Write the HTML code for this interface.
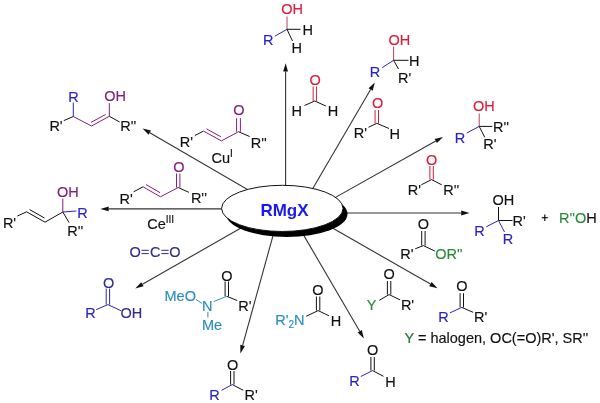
<!DOCTYPE html><html><head><meta charset="utf-8"><style>html,body{margin:0;padding:0;background:#fff;width:600px;height:403px;overflow:hidden}svg{display:block;filter:blur(0.35px)}text{font-family:"Liberation Sans",sans-serif;white-space:pre}</style></head><body>
<svg width="600" height="403" viewBox="0 0 600 403">
<line x1="285.60" y1="212.00" x2="285.60" y2="71.50" stroke="#333" stroke-width="1.1"/>
<polygon points="285.60,63.20 288.00,71.50 283.20,71.50" fill="#111"/>
<line x1="306.95" y1="198.56" x2="370.61" y2="89.57" stroke="#333" stroke-width="1.1"/>
<polygon points="374.80,82.40 372.69,90.78 368.54,88.36" fill="#111"/>
<line x1="327.04" y1="202.13" x2="435.77" y2="140.97" stroke="#333" stroke-width="1.1"/>
<polygon points="443.00,136.90 436.94,143.06 434.59,138.88" fill="#111"/>
<line x1="323.00" y1="213.00" x2="461.20" y2="213.00" stroke="#333" stroke-width="1.1"/>
<polygon points="469.50,213.00 461.20,215.40 461.20,210.60" fill="#111"/>
<line x1="323.34" y1="222.79" x2="430.40" y2="284.08" stroke="#333" stroke-width="1.1"/>
<polygon points="437.60,288.20 429.20,286.16 431.59,281.99" fill="#111"/>
<line x1="298.95" y1="227.14" x2="359.72" y2="331.23" stroke="#333" stroke-width="1.1"/>
<polygon points="363.90,338.40 357.64,332.44 361.79,330.02" fill="#111"/>
<line x1="275.70" y1="225.94" x2="242.62" y2="345.40" stroke="#333" stroke-width="1.1"/>
<polygon points="240.40,353.40 240.30,344.76 244.93,346.04" fill="#111"/>
<line x1="247.92" y1="224.05" x2="142.41" y2="284.29" stroke="#333" stroke-width="1.1"/>
<polygon points="135.20,288.40 141.22,282.20 143.60,286.37" fill="#111"/>
<line x1="242.00" y1="208.90" x2="108.70" y2="208.90" stroke="#333" stroke-width="1.1"/>
<polygon points="100.40,208.90 108.70,206.50 108.70,211.30" fill="#111"/>
<line x1="257.87" y1="195.53" x2="149.78" y2="132.67" stroke="#333" stroke-width="1.1"/>
<polygon points="142.60,128.50 150.98,130.60 148.57,134.75" fill="#111"/>
<ellipse cx="286.8" cy="213.9" rx="60.7" ry="23.1" fill="#000"/>
<ellipse cx="282.3" cy="208.4" rx="60.7" ry="23.1" fill="#fff" stroke="#111" stroke-width="1"/>
<text x="260.4" y="215.50" font-size="17" font-weight="bold" fill="#1818f0">RMgX</text>
<line x1="287.00" y1="29.30" x2="287.00" y2="16.50" stroke="#c0405a" stroke-width="1.0"/>
<line x1="287.00" y1="29.30" x2="300.50" y2="29.30" stroke="#111" stroke-width="1.0"/>
<line x1="287.00" y1="29.30" x2="274.80" y2="36.20" stroke="#2a22c8" stroke-width="1.0"/>
<line x1="287.00" y1="29.30" x2="292.50" y2="41.00" stroke="#111" stroke-width="1.0"/>
<line x1="316.45" y1="101.00" x2="316.45" y2="86.50" stroke="#d81e3c" stroke-width="1.0"/>
<line x1="313.15" y1="101.00" x2="313.15" y2="86.50" stroke="#d81e3c" stroke-width="1.0"/>
<line x1="314.80" y1="101.00" x2="304.50" y2="105.50" stroke="#111" stroke-width="1.0"/>
<line x1="314.80" y1="101.00" x2="325.80" y2="106.00" stroke="#111" stroke-width="1.0"/>
<line x1="393.60" y1="60.30" x2="393.60" y2="46.50" stroke="#c0405a" stroke-width="1.0"/>
<line x1="393.60" y1="60.30" x2="408.50" y2="60.30" stroke="#111" stroke-width="1.0"/>
<line x1="393.60" y1="60.30" x2="382.10" y2="67.70" stroke="#2a22c8" stroke-width="1.0"/>
<line x1="393.60" y1="60.30" x2="398.50" y2="69.00" stroke="#111" stroke-width="1.0"/>
<line x1="378.50" y1="123.30" x2="378.50" y2="110.00" stroke="#d81e3c" stroke-width="1.0"/>
<line x1="375.10" y1="123.30" x2="375.10" y2="110.00" stroke="#d81e3c" stroke-width="1.0"/>
<line x1="376.80" y1="123.30" x2="368.50" y2="127.30" stroke="#111" stroke-width="1.0"/>
<line x1="376.80" y1="123.30" x2="389.00" y2="128.50" stroke="#111" stroke-width="1.0"/>
<line x1="479.20" y1="126.40" x2="479.20" y2="113.50" stroke="#c0405a" stroke-width="1.0"/>
<line x1="479.20" y1="126.40" x2="492.30" y2="126.40" stroke="#111" stroke-width="1.0"/>
<line x1="479.20" y1="126.40" x2="466.80" y2="133.00" stroke="#2a22c8" stroke-width="1.0"/>
<line x1="479.20" y1="126.40" x2="484.80" y2="137.40" stroke="#111" stroke-width="1.0"/>
<line x1="433.30" y1="179.60" x2="433.30" y2="166.00" stroke="#d81e3c" stroke-width="1.0"/>
<line x1="429.90" y1="179.60" x2="429.90" y2="166.00" stroke="#d81e3c" stroke-width="1.0"/>
<line x1="431.60" y1="179.60" x2="421.30" y2="184.80" stroke="#111" stroke-width="1.0"/>
<line x1="431.60" y1="179.60" x2="441.70" y2="184.80" stroke="#111" stroke-width="1.0"/>
<line x1="541.80" y1="217.70" x2="547.80" y2="217.70" stroke="#111" stroke-width="1.2"/>
<line x1="544.80" y1="214.50" x2="544.80" y2="220.90" stroke="#111" stroke-width="1.2"/>
<line x1="498.50" y1="220.50" x2="498.50" y2="207.00" stroke="#111" stroke-width="1.0"/>
<line x1="498.50" y1="220.50" x2="512.50" y2="220.50" stroke="#111" stroke-width="1.0"/>
<line x1="498.50" y1="220.50" x2="486.25" y2="226.80" stroke="#2a22c8" stroke-width="1.0"/>
<line x1="498.50" y1="220.50" x2="504.50" y2="232.00" stroke="#2a22c8" stroke-width="1.0"/>
<line x1="425.10" y1="245.60" x2="425.10" y2="231.00" stroke="#111" stroke-width="1.0"/>
<line x1="421.70" y1="245.60" x2="421.70" y2="231.00" stroke="#111" stroke-width="1.0"/>
<line x1="423.40" y1="245.60" x2="415.20" y2="248.80" stroke="#111" stroke-width="1.0"/>
<line x1="423.40" y1="245.60" x2="434.80" y2="251.00" stroke="#111" stroke-width="1.0"/>
<line x1="390.80" y1="294.60" x2="390.80" y2="281.00" stroke="#111" stroke-width="1.0"/>
<line x1="387.40" y1="294.60" x2="387.40" y2="281.00" stroke="#111" stroke-width="1.0"/>
<line x1="389.10" y1="294.60" x2="379.30" y2="300.30" stroke="#111" stroke-width="1.0"/>
<line x1="389.10" y1="294.60" x2="400.10" y2="299.90" stroke="#111" stroke-width="1.0"/>
<line x1="463.50" y1="307.40" x2="463.50" y2="293.20" stroke="#111" stroke-width="1.0"/>
<line x1="460.10" y1="307.40" x2="460.10" y2="293.20" stroke="#111" stroke-width="1.0"/>
<line x1="461.80" y1="307.40" x2="449.90" y2="312.90" stroke="#2a22c8" stroke-width="1.0"/>
<line x1="461.80" y1="307.40" x2="473.10" y2="312.30" stroke="#111" stroke-width="1.0"/>
<line x1="319.80" y1="310.60" x2="319.80" y2="296.50" stroke="#111" stroke-width="1.0"/>
<line x1="316.40" y1="310.60" x2="316.40" y2="296.50" stroke="#111" stroke-width="1.0"/>
<line x1="318.10" y1="310.60" x2="306.20" y2="316.30" stroke="#111" stroke-width="1.0"/>
<line x1="318.10" y1="310.60" x2="329.00" y2="315.80" stroke="#111" stroke-width="1.0"/>
<line x1="374.30" y1="370.60" x2="374.30" y2="357.00" stroke="#111" stroke-width="1.0"/>
<line x1="370.90" y1="370.60" x2="370.90" y2="357.00" stroke="#111" stroke-width="1.0"/>
<line x1="372.60" y1="370.60" x2="360.80" y2="376.50" stroke="#2a22c8" stroke-width="1.0"/>
<line x1="372.60" y1="370.60" x2="383.50" y2="376.30" stroke="#111" stroke-width="1.0"/>
<line x1="228.50" y1="296.30" x2="228.50" y2="281.50" stroke="#111" stroke-width="1.0"/>
<line x1="225.10" y1="296.30" x2="225.10" y2="281.50" stroke="#111" stroke-width="1.0"/>
<line x1="196.00" y1="299.50" x2="202.20" y2="303.50" stroke="#2a8cc0" stroke-width="1.0"/>
<line x1="213.80" y1="301.50" x2="226.80" y2="296.30" stroke="#2a8cc0" stroke-width="1.0"/>
<line x1="226.80" y1="296.30" x2="237.30" y2="300.60" stroke="#111" stroke-width="1.0"/>
<line x1="207.90" y1="311.90" x2="207.90" y2="317.50" stroke="#2a8cc0" stroke-width="1.0"/>
<line x1="234.00" y1="384.60" x2="234.00" y2="371.00" stroke="#111" stroke-width="1.0"/>
<line x1="230.60" y1="384.60" x2="230.60" y2="371.00" stroke="#111" stroke-width="1.0"/>
<line x1="232.30" y1="384.60" x2="221.50" y2="390.30" stroke="#2a22c8" stroke-width="1.0"/>
<line x1="232.30" y1="384.60" x2="243.30" y2="390.30" stroke="#111" stroke-width="1.0"/>
<line x1="141.50" y1="250.30" x2="148.80" y2="250.30" stroke="#2d2d90" stroke-width="1.0"/>
<line x1="141.50" y1="253.60" x2="148.80" y2="253.60" stroke="#2d2d90" stroke-width="1.0"/>
<line x1="161.30" y1="250.30" x2="168.60" y2="250.30" stroke="#2d2d90" stroke-width="1.0"/>
<line x1="161.30" y1="253.60" x2="168.60" y2="253.60" stroke="#2d2d90" stroke-width="1.0"/>
<line x1="109.60" y1="304.60" x2="109.60" y2="288.60" stroke="#2d2d90" stroke-width="1.0"/>
<line x1="106.20" y1="304.60" x2="106.20" y2="288.60" stroke="#2d2d90" stroke-width="1.0"/>
<line x1="107.90" y1="304.60" x2="96.30" y2="309.60" stroke="#2a22c8" stroke-width="1.0"/>
<line x1="107.90" y1="304.60" x2="120.90" y2="310.70" stroke="#2d2d90" stroke-width="1.0"/>
<line x1="17.40" y1="216.00" x2="26.60" y2="211.80" stroke="#111" stroke-width="1.0"/>
<line x1="26.60" y1="211.80" x2="45.00" y2="222.20" stroke="#111" stroke-width="1.0"/>
<line x1="29.56" y1="209.57" x2="44.46" y2="217.99" stroke="#111" stroke-width="1.0"/>
<line x1="45.00" y1="222.20" x2="62.80" y2="212.00" stroke="#111" stroke-width="1.0"/>
<line x1="62.80" y1="212.00" x2="62.80" y2="198.50" stroke="#82207c" stroke-width="1.0"/>
<line x1="62.80" y1="212.00" x2="76.50" y2="211.00" stroke="#2a22c8" stroke-width="1.0"/>
<line x1="62.80" y1="212.00" x2="69.00" y2="222.50" stroke="#111" stroke-width="1.0"/>
<line x1="133.60" y1="191.80" x2="143.10" y2="186.80" stroke="#111" stroke-width="1.0"/>
<line x1="143.10" y1="186.80" x2="160.40" y2="196.80" stroke="#82207c" stroke-width="1.0"/>
<line x1="146.01" y1="184.56" x2="160.03" y2="192.66" stroke="#82207c" stroke-width="1.0"/>
<line x1="160.40" y1="196.80" x2="178.20" y2="187.50" stroke="#82207c" stroke-width="1.0"/>
<line x1="179.90" y1="187.50" x2="179.90" y2="173.50" stroke="#82207c" stroke-width="1.0"/>
<line x1="176.50" y1="187.50" x2="176.50" y2="173.50" stroke="#82207c" stroke-width="1.0"/>
<line x1="178.20" y1="187.50" x2="188.80" y2="192.30" stroke="#111" stroke-width="1.0"/>
<line x1="63.80" y1="120.60" x2="73.30" y2="116.50" stroke="#111" stroke-width="1.0"/>
<line x1="73.30" y1="116.50" x2="73.30" y2="102.50" stroke="#2a22c8" stroke-width="1.0"/>
<line x1="73.30" y1="116.50" x2="91.50" y2="126.00" stroke="#82207c" stroke-width="1.0"/>
<line x1="91.50" y1="126.00" x2="109.30" y2="116.30" stroke="#82207c" stroke-width="1.0"/>
<line x1="91.12" y1="122.34" x2="105.54" y2="114.48" stroke="#82207c" stroke-width="1.0"/>
<line x1="109.30" y1="116.30" x2="109.30" y2="103.20" stroke="#82207c" stroke-width="1.0"/>
<line x1="109.30" y1="116.30" x2="119.60" y2="122.00" stroke="#111" stroke-width="1.0"/>
<line x1="194.90" y1="135.50" x2="203.50" y2="131.10" stroke="#111" stroke-width="1.0"/>
<line x1="203.50" y1="131.10" x2="221.40" y2="140.90" stroke="#82207c" stroke-width="1.0"/>
<line x1="206.39" y1="128.80" x2="220.88" y2="136.74" stroke="#82207c" stroke-width="1.0"/>
<line x1="221.40" y1="140.90" x2="238.50" y2="131.70" stroke="#82207c" stroke-width="1.0"/>
<line x1="240.40" y1="131.70" x2="240.40" y2="118.20" stroke="#82207c" stroke-width="1.0"/>
<line x1="236.60" y1="131.70" x2="236.60" y2="118.20" stroke="#82207c" stroke-width="1.0"/>
<line x1="238.50" y1="131.70" x2="249.60" y2="136.50" stroke="#111" stroke-width="1.0"/>
<text x="281.20" y="13.98" font-size="14.5" font-weight="normal" fill="#d81e3c" stroke="#d81e3c" stroke-width="0.15">OH</text>
<text x="302.40" y="35.48" font-size="14.5" font-weight="normal" fill="#111" stroke="#111" stroke-width="0.15">H</text>
<text x="291.50" y="53.18" font-size="14.5" font-weight="normal" fill="#111" stroke="#111" stroke-width="0.15">H</text>
<text x="263.00" y="45.18" font-size="14.5" font-weight="normal" fill="#2a22c8" stroke="#2a22c8" stroke-width="0.15">R</text>
<text x="309.50" y="85.38" font-size="14.5" font-weight="normal" fill="#d81e3c" stroke="#d81e3c" stroke-width="0.15">O</text>
<text x="291.50" y="115.98" font-size="14.5" font-weight="normal" fill="#111" stroke="#111" stroke-width="0.15">H</text>
<text x="327.75" y="115.98" font-size="14.5" font-weight="normal" fill="#111" stroke="#111" stroke-width="0.15">H</text>
<text x="388.50" y="45.48" font-size="14.5" font-weight="normal" fill="#d81e3c" stroke="#d81e3c" stroke-width="0.15">OH</text>
<text x="409.00" y="66.23" font-size="14.5" font-weight="normal" fill="#111" stroke="#111" stroke-width="0.15">H</text>
<text x="369.80" y="76.98" font-size="14.5" font-weight="normal" fill="#2a22c8" stroke="#2a22c8" stroke-width="0.15">R</text>
<text x="398.00" y="83.18" font-size="14.5" font-weight="normal" fill="#111" stroke="#111" stroke-width="0.15">R'</text>
<text x="372.00" y="108.28" font-size="14.5" font-weight="normal" fill="#d81e3c" stroke="#d81e3c" stroke-width="0.15">O</text>
<text x="353.80" y="138.48" font-size="14.5" font-weight="normal" fill="#111" stroke="#111" stroke-width="0.15">R'</text>
<text x="389.50" y="138.68" font-size="14.5" font-weight="normal" fill="#111" stroke="#111" stroke-width="0.15">H</text>
<text x="472.90" y="111.48" font-size="14.5" font-weight="normal" fill="#d81e3c" stroke="#d81e3c" stroke-width="0.15">OH</text>
<text x="493.00" y="132.38" font-size="14.5" font-weight="normal" fill="#111" stroke="#111" stroke-width="0.15">R''</text>
<text x="454.80" y="142.98" font-size="14.5" font-weight="normal" fill="#2a22c8" stroke="#2a22c8" stroke-width="0.15">R</text>
<text x="483.20" y="149.28" font-size="14.5" font-weight="normal" fill="#111" stroke="#111" stroke-width="0.15">R'</text>
<text x="426.00" y="164.98" font-size="14.5" font-weight="normal" fill="#d81e3c" stroke="#d81e3c" stroke-width="0.15">O</text>
<text x="407.75" y="194.58" font-size="14.5" font-weight="normal" fill="#111" stroke="#111" stroke-width="0.15">R'</text>
<text x="443.20" y="194.58" font-size="14.5" font-weight="normal" fill="#111" stroke="#111" stroke-width="0.15">R''</text>
<text x="492.40" y="205.38" font-size="14.5" font-weight="normal" fill="#111" stroke="#111" stroke-width="0.15">OH</text>
<text x="512.60" y="225.78" font-size="14.5" font-weight="normal" fill="#111" stroke="#111" stroke-width="0.15">R'</text>
<text x="474.20" y="235.78" font-size="14.5" font-weight="normal" fill="#2a22c8" stroke="#2a22c8" stroke-width="0.15">R</text>
<text x="502.75" y="244.23" font-size="14.5" font-weight="normal" fill="#2a22c8" stroke="#2a22c8" stroke-width="0.15">R</text>
<text x="559.00" y="223.38" font-size="14.5" font-weight="normal" fill="#2a8a3a" stroke="#2a8a3a" stroke-width="0.15">R''O<tspan fill='#111' stroke='#111'>H</tspan></text>
<text x="417.75" y="228.73" font-size="14.5" font-weight="normal" fill="#111" stroke="#111" stroke-width="0.15">O</text>
<text x="400.25" y="258.73" font-size="14.5" font-weight="normal" fill="#111" stroke="#111" stroke-width="0.15">R'</text>
<text x="435.25" y="258.73" font-size="14.5" font-weight="normal" fill="#2a8a3a" stroke="#2a8a3a" stroke-width="0.15">OR''</text>
<text x="383.40" y="279.38" font-size="14.5" font-weight="normal" fill="#111" stroke="#111" stroke-width="0.15">O</text>
<text x="366.80" y="309.58" font-size="14.5" font-weight="normal" fill="#2a8a3a" stroke="#2a8a3a" stroke-width="0.15">Y</text>
<text x="400.90" y="309.98" font-size="14.5" font-weight="normal" fill="#111" stroke="#111" stroke-width="0.15">R'</text>
<text x="456.20" y="291.48" font-size="14.5" font-weight="normal" fill="#111" stroke="#111" stroke-width="0.15">O</text>
<text x="438.20" y="321.98" font-size="14.5" font-weight="normal" fill="#2a22c8" stroke="#2a22c8" stroke-width="0.15">R</text>
<text x="474.00" y="322.48" font-size="14.5" font-weight="normal" fill="#111" stroke="#111" stroke-width="0.15">R'</text>
<text x="404.50" y="343.28" font-size="14.5" font-weight="normal" fill="#111" stroke="#111" stroke-width="0.15"><tspan fill='#2a8a3a'>Y</tspan> = halogen, OC(=O)R', SR''</text>
<text x="312.30" y="295.18" font-size="14.5" font-weight="normal" fill="#111" stroke="#111" stroke-width="0.15">O</text>
<text x="330.80" y="325.98" font-size="14.5" font-weight="normal" fill="#111" stroke="#111" stroke-width="0.15">H</text>
<text x="275.20" y="325.38" font-size="14.5" font-weight="normal" fill="#2a8cc0" stroke="#2a8cc0" stroke-width="0.15">R'<tspan font-size='10' dy='3'>2</tspan><tspan dy='-3'>N</tspan></text>
<text x="367.10" y="355.48" font-size="14.5" font-weight="normal" fill="#111" stroke="#111" stroke-width="0.15">O</text>
<text x="349.20" y="386.08" font-size="14.5" font-weight="normal" fill="#2a22c8" stroke="#2a22c8" stroke-width="0.15">R</text>
<text x="385.25" y="386.73" font-size="14.5" font-weight="normal" fill="#111" stroke="#111" stroke-width="0.15">H</text>
<text x="221.20" y="280.78" font-size="14.5" font-weight="normal" fill="#111" stroke="#111" stroke-width="0.15">O</text>
<text x="164.50" y="300.68" font-size="14.5" font-weight="normal" fill="#2a8cc0" stroke="#2a8cc0" stroke-width="0.15">MeO</text>
<text x="202.00" y="310.88" font-size="14.5" font-weight="normal" fill="#2a8cc0" stroke="#2a8cc0" stroke-width="0.15">N</text>
<text x="202.00" y="330.48" font-size="14.5" font-weight="normal" fill="#2a8cc0" stroke="#2a8cc0" stroke-width="0.15">Me</text>
<text x="238.30" y="310.98" font-size="14.5" font-weight="normal" fill="#111" stroke="#111" stroke-width="0.15">R'</text>
<text x="227.00" y="369.58" font-size="14.5" font-weight="normal" fill="#111" stroke="#111" stroke-width="0.15">O</text>
<text x="209.20" y="399.88" font-size="14.5" font-weight="normal" fill="#2a22c8" stroke="#2a22c8" stroke-width="0.15">R</text>
<text x="244.60" y="399.88" font-size="14.5" font-weight="normal" fill="#111" stroke="#111" stroke-width="0.15">R'</text>
<text x="129.60" y="257.38" font-size="14.5" font-weight="normal" fill="#2d2d90" stroke="#2d2d90" stroke-width="0.15">O</text>
<text x="150.10" y="257.38" font-size="14.5" font-weight="normal" fill="#2d2d90" stroke="#2d2d90" stroke-width="0.15">C</text>
<text x="169.30" y="257.38" font-size="14.5" font-weight="normal" fill="#2d2d90" stroke="#2d2d90" stroke-width="0.15">O</text>
<text x="103.10" y="288.38" font-size="14.5" font-weight="normal" fill="#2d2d90" stroke="#2d2d90" stroke-width="0.15">O</text>
<text x="85.20" y="318.48" font-size="14.5" font-weight="normal" fill="#2a22c8" stroke="#2a22c8" stroke-width="0.15">R</text>
<text x="120.40" y="318.48" font-size="14.5" font-weight="normal" fill="#2d2d90" stroke="#2d2d90" stroke-width="0.15">OH</text>
<text x="57.00" y="196.98" font-size="14.5" font-weight="normal" fill="#82207c" stroke="#82207c" stroke-width="0.15">OH</text>
<text x="77.25" y="217.98" font-size="14.5" font-weight="normal" fill="#2a22c8" stroke="#2a22c8" stroke-width="0.15">R</text>
<text x="2.90" y="227.78" font-size="14.5" font-weight="normal" fill="#111" stroke="#111" stroke-width="0.15">R'</text>
<text x="67.25" y="236.23" font-size="14.5" font-weight="normal" fill="#111" stroke="#111" stroke-width="0.15">R''</text>
<text x="147.20" y="228.58" font-size="14.5" font-weight="normal" fill="#111" stroke="#111" stroke-width="0.15">Ce<tspan font-size='10' dy='-5.2'>III</tspan></text>
<text x="173.20" y="172.48" font-size="14.5" font-weight="normal" fill="#82207c" stroke="#82207c" stroke-width="0.15">O</text>
<text x="119.60" y="203.98" font-size="14.5" font-weight="normal" fill="#111" stroke="#111" stroke-width="0.15">R'</text>
<text x="190.90" y="203.28" font-size="14.5" font-weight="normal" fill="#111" stroke="#111" stroke-width="0.15">R''</text>
<text x="68.20" y="101.78" font-size="14.5" font-weight="normal" fill="#2a22c8" stroke="#2a22c8" stroke-width="0.15">R</text>
<text x="104.20" y="100.78" font-size="14.5" font-weight="normal" fill="#82207c" stroke="#82207c" stroke-width="0.15">OH</text>
<text x="49.40" y="130.98" font-size="14.5" font-weight="normal" fill="#111" stroke="#111" stroke-width="0.15">R'</text>
<text x="120.20" y="130.98" font-size="14.5" font-weight="normal" fill="#111" stroke="#111" stroke-width="0.15">R''</text>
<text x="233.20" y="114.98" font-size="14.5" font-weight="normal" fill="#82207c" stroke="#82207c" stroke-width="0.15">O</text>
<text x="179.80" y="146.78" font-size="14.5" font-weight="normal" fill="#111" stroke="#111" stroke-width="0.15">R'</text>
<text x="250.70" y="147.98" font-size="14.5" font-weight="normal" fill="#111" stroke="#111" stroke-width="0.15">R''</text>
<text x="211.50" y="162.78" font-size="14.5" font-weight="normal" fill="#111" stroke="#111" stroke-width="0.15">Cu<tspan font-size='10' dy='-5.7'>I</tspan></text>
</svg></body></html>
